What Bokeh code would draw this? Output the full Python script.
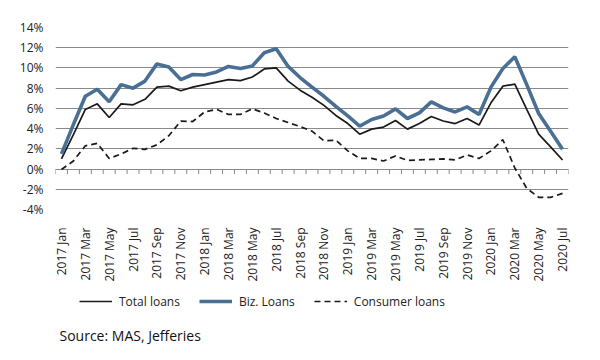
import math
from bokeh.plotting import figure
from bokeh.layouts import column
from bokeh.models import (ColumnDataSource, FixedTicker, Legend, LegendItem, Label, Range1d)
from bokeh.embed import file_html
from bokeh.resources import INLINE

months = ["Jan", "Feb", "Mar", "Apr", "May", "Jun", "Jul", "Aug", "Sep", "Oct", "Nov", "Dec"]
categories = [f"{y} {m}" for y in (2017, 2018, 2019, 2020) for m in months][:43]

total_loans = [1.0, 3.4, 5.9, 6.45, 5.1, 6.45, 6.35, 6.9, 8.1, 8.2, 7.75, 8.1, 8.35, 8.6,
               8.85, 8.75, 9.1, 9.9, 10.0, 8.7, 7.8, 7.1, 6.3, 5.3, 4.5, 3.45, 3.95, 4.15,
               4.8, 3.95, 4.5, 5.2, 4.75, 4.5, 5.0, 4.35, 6.55, 8.2, 8.4, 5.9, 3.45, 2.2, 0.9]
biz_loans = [1.5, 4.4, 7.2, 7.9, 6.65, 8.35, 8.0, 8.7, 10.4, 10.1, 8.85, 9.35, 9.3, 9.6,
             10.15, 9.95, 10.2, 11.5, 11.9, 10.15, 9.05, 8.1, 7.2, 6.2, 5.25, 4.25, 4.9, 5.25,
             5.95, 5.0, 5.55, 6.65, 6.05, 5.65, 6.15, 5.4, 8.1, 9.95, 11.1, 8.35, 5.5, 3.75, 1.95]
consumer_loans = [-0.05, 0.8, 2.3, 2.55, 1.05, 1.5, 2.05, 1.95, 2.4, 3.3, 4.75, 4.7, 5.65, 5.9,
                  5.4, 5.4, 5.95, 5.55, 5.0, 4.6, 4.2, 3.75, 2.8, 2.85, 1.8, 1.05, 1.05, 0.8,
                  1.3, 0.85, 0.9, 0.95, 1.0, 0.9, 1.4, 1.05, 1.8, 2.9, 0.1, -1.9, -2.8, -2.8, -2.4]
y_ticks = [-4, -2, 0, 2, 4, 6, 8, 10, 12, 14]
series_names = ["Total loans", "Biz. Loans", "Consumer loans"]
series_cols = ["total", "biz", "cons"]

FONT = "Open Sans"
C_DARK = "#1a1a1a"
C_BLUE = "#4a6f94"
n = len(categories)
xs = list(range(n))
src = ColumnDataSource(dict(x=xs, total=total_loans, biz=biz_loans, cons=consumer_loans))

p = figure(width=600, height=284, output_backend="svg", toolbar_location=None,
           x_range=Range1d(-0.5, n - 0.5), y_range=Range1d(y_ticks[0], y_ticks[-1]),
           min_border_left=55, min_border_right=32, min_border_top=27, min_border_bottom=74)
p.outline_line_color = None

# tick marks along the 0% line at category boundaries
bounds = [i - 0.5 for i in range(n + 1)]
p.segment(x0=bounds, x1=bounds, y0=[0] * len(bounds), y1=[-0.5] * len(bounds),
          line_color="#888888", line_width=1)

styles = [dict(line_color=C_DARK, line_width=1.7),
          dict(line_color=C_BLUE, line_width=3.6),
          dict(line_color=C_DARK, line_width=1.7, line_dash="6 4")]
for col, st in zip(series_cols, styles):
    p.line("x", col, source=src, **st)

# axes
p.yaxis.ticker = FixedTicker(ticks=y_ticks)
p.yaxis.major_label_overrides = {t: f"{t}%" for t in y_ticks}
p.yaxis.axis_line_color = None
p.yaxis.major_tick_line_color = None
p.yaxis.minor_tick_line_color = None
p.yaxis.major_label_text_font = FONT
p.yaxis.major_label_text_font_size = "12px"
p.yaxis.major_label_text_color = "#222222"
p.yaxis.major_label_standoff = 6

label_idx = list(range(0, n, 2))
p.xaxis.ticker = FixedTicker(ticks=label_idx)
p.xaxis.major_label_overrides = {i: categories[i] for i in label_idx}
p.xaxis.major_label_orientation = math.pi / 2
p.xaxis.axis_line_color = None
p.xaxis.major_tick_line_color = None
p.xaxis.minor_tick_line_color = None
p.xaxis.major_label_text_font = FONT
p.xaxis.major_label_text_font_size = "12px"
p.xaxis.major_label_text_color = "#222222"
p.xaxis.major_label_standoff = 12

p.xgrid.grid_line_color = None
p.ygrid.ticker = FixedTicker(ticks=y_ticks)
p.ygrid.grid_line_color = "#8a8a8a"
p.ygrid.grid_line_width = 1.2

# footer figure: legend + source (series drawn off-range so only legend samples show)
f = figure(width=600, height=76, output_backend="svg", toolbar_location=None,
           x_axis_location=None, y_axis_location=None, min_border=0,
           x_range=Range1d(1000, 1600), y_range=Range1d(1000, 1076))
f.outline_line_color = None
f.grid.visible = False
legend_renderers = [f.line("x", col, source=src, **st) for col, st in zip(series_cols, styles)]
legend = Legend(items=[LegendItem(label=nm, renderers=[r])
                       for nm, r in zip(series_names, legend_renderers)],
                orientation="horizontal", location=(24, 49),
                label_text_font=FONT, label_text_font_size="12px", label_text_color="#222222",
                glyph_width=33, glyph_height=20, label_standoff=7, spacing=19, padding=4,
                margin=0, border_line_color=None, background_fill_alpha=0)
f.add_layout(legend)
f.add_layout(Label(x=4, y=25, x_units="screen", y_units="screen",
                   text="Source: MAS, Jefferies", text_font=FONT, text_font_size="14px",
                   text_color="#111111", text_baseline="middle"))

open("out.html", "w").write(file_html(column(p, f, spacing=0), INLINE))
